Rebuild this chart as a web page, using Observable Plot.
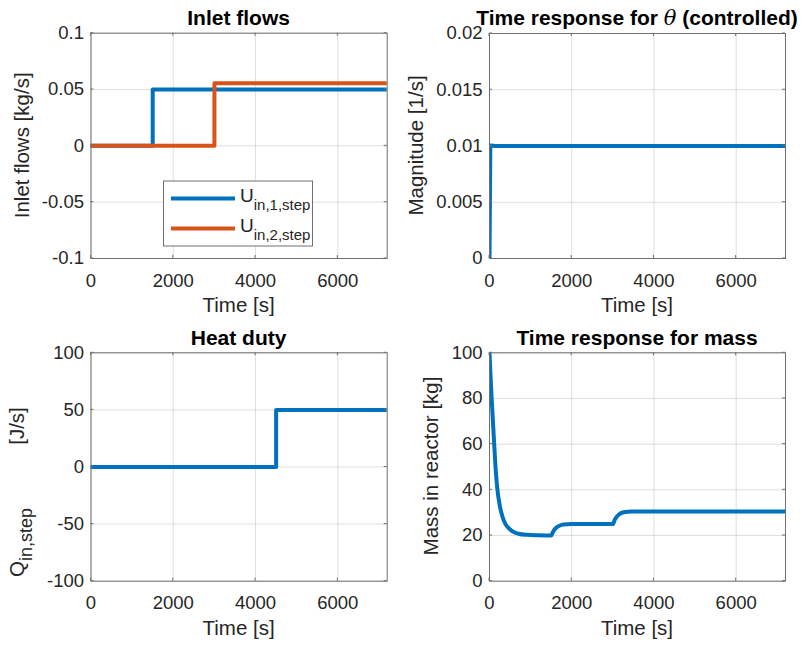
<!DOCTYPE html>
<html><head><meta charset="utf-8">
<script src="https://cdn.jsdelivr.net/npm/d3@7"></script>
<script src="https://cdn.jsdelivr.net/npm/@observablehq/plot@0.6"></script>
<style>
body{margin:0;background:#fff;}
#fig{position:relative;width:803px;height:645px;overflow:hidden;background:#fff;font-family:"Liberation Sans",Arial,sans-serif;}
#fig svg{position:absolute;overflow:visible;}
</style></head><body><div id="fig"></div>
<script>
// ---- shared time axis ----
const timeDomain = [0, 7200];
const timeTicks = [0, 2000, 4000, 6000];
const timeTickLabels = ["0", "2000", "4000", "6000"];

// ---- Inlet flows ----
const u1Time = [0, 1500, 7200];
const u1Value = [0, 0.05, 0.05];
const u2Time = [0, 3000, 7200];
const u2Value = [0, 0.0556, 0.0556];
const flowTicks = [-0.1, -0.05, 0, 0.05, 0.1];
const flowTickLabels = ["-0.1", "-0.05", "0", "0.05", "0.1"];
const legendNames = [["U", "in,1,step"], ["U", "in,2,step"]];

// ---- theta ----
const thetaTime = [0, 20, 150, 7200];
const thetaValue = [0, 0.01005, 0.01, 0.01];
const thetaTicks = [0, 0.005, 0.01, 0.015, 0.02];
const thetaTickLabels = ["0", "0.005", "0.01", "0.015", "0.02"];

// ---- heat duty ----
const qTime = [0, 4500, 7200];
const qValue = [0, 50, 50];
const qTicks = [-100, -50, 0, 50, 100];
const qTickLabels = ["-100", "-50", "0", "50", "100"];

// ---- mass ----
const massTime = [0, 30, 65, 105, 146, 187, 251, 320, 389, 480, 590, 700, 917, 1200, 1500, 1550, 1600, 1650, 1700, 1800, 2000, 3000, 3050, 3100, 3150, 3200, 3300, 3450, 7200];
const massValue = [100, 88, 76, 63, 50, 41, 33, 28, 25, 23, 21.5, 20.8, 20.3, 20.1, 20, 21.8, 23, 23.8, 24.3, 24.8, 25, 25, 27, 28.3, 29.2, 29.8, 30.3, 30.5, 30.5];
const massTicks = [0, 20, 40, 60, 80, 100];
const massTickLabels = ["0", "20", "40", "60", "80", "100"];

const BLUE = "#0072BD", ORANGE = "#D95319";
const INK = "#262626", FRAME = "#707070";
const FONT = "'Liberation Sans', Arial, sans-serif";

function table(ts, vs) { return ts.map((t, i) => ({t, v: vs[i]})); }

function panel(cfg) {
  const {left, top, width, height, mL, mR, mT, mB, yDomain, yTicks, yTickLabels, series} = cfg;
  const ymap = new Map(yTicks.map((d, i) => [d, yTickLabels[i]]));
  const xmap = new Map(timeTicks.map((d, i) => [d, timeTickLabels[i]]));
  const marks = [
    Plot.gridX(timeTicks, {stroke: INK, strokeOpacity: 0.15}),
    Plot.gridY(yTicks, {stroke: INK, strokeOpacity: 0.15}),
    ...series.map(s => Plot.line(table(s.t, s.v), {x: "t", y: "v", stroke: s.color, strokeWidth: 4, curve: s.curve, clip: true})),
    Plot.frame({stroke: FRAME}),
    Plot.axisX(timeTicks, {tickSize: 0, tickPadding: 15, tickFormat: d => xmap.get(d), label: null, fill: INK}),
    Plot.axisY(yTicks, {tickSize: 0, tickPadding: 7, tickFormat: d => ymap.get(d), label: null, fill: INK})
  ];
  const svg = Plot.plot({
    width, height, marginLeft: mL, marginRight: mR, marginTop: mT, marginBottom: mB,
    x: {domain: timeDomain, label: null},
    y: {domain: yDomain, label: null},
    style: {fontFamily: FONT, fontSize: "18.5px", color: INK, background: "transparent", overflow: "visible"},
    marks
  });
  svg.style.left = left + "px";
  svg.style.top = top + "px";
  document.getElementById("fig").appendChild(svg);
  const g = d3.select(svg);
  const x0 = mL, x1 = width - mR, y0 = mT, y1 = height - mB;
  const sx = svg.scale("x"), sy = svg.scale("y");
  const tg = g.append("g").attr("stroke", FRAME).attr("stroke-width", 1);
  timeTicks.forEach(d => {
    const px = sx.apply(d);
    tg.append("line").attr("x1", px).attr("x2", px).attr("y1", y1).attr("y2", y1 - 3);
    tg.append("line").attr("x1", px).attr("x2", px).attr("y1", y0).attr("y2", y0 + 3);
  });
  yTicks.forEach(d => {
    const py = sy.apply(d);
    tg.append("line").attr("x1", x0).attr("x2", x0 + 3).attr("y1", py).attr("y2", py);
    tg.append("line").attr("x1", x1).attr("x2", x1 - 3).attr("y1", py).attr("y2", py);
  });
  // title
  const title = g.append("text").attr("x", (x0 + x1) / 2).attr("y", cfg.titleY)
    .attr("text-anchor", "middle").attr("font-family", FONT).attr("font-size", 21)
    .attr("font-weight", "bold").attr("fill", "#000");
  cfg.title.forEach(p => { const ts = title.append("tspan").text(p.text); if (p.italic) ts.attr("font-style", "italic").attr("font-family", "'DejaVu Serif', serif").attr("font-weight", "normal"); });
  // x label
  g.append("text").attr("x", (x0 + x1) / 2).attr("y", y1 + 54).attr("text-anchor", "middle")
    .attr("font-family", FONT).attr("font-size", 20.5).attr("fill", INK).text("Time [s]");
  // y label pieces
  cfg.ylabels.forEach(lab => {
    const yl = g.append("text").attr("transform", `translate(${lab.x},${lab.y}) rotate(-90)`)
      .attr("text-anchor", lab.anchor || "middle").attr("font-family", FONT).attr("font-size", 20.5).attr("fill", INK);
    lab.parts.forEach(p => {
      const ts = yl.append("tspan").text(p.text);
      if (p.sub) ts.attr("font-size", 18).attr("dy", 7.5);
    });
  });
  return {svg, g};
}

// Top-left
const tl = panel({left: 0, top: 0, width: 400, height: 320, mL: 90.5, mR: 13.3, mT: 32.7, mB: 62,
  yDomain: [-0.1, 0.1], yTicks: flowTicks, yTickLabels: flowTickLabels,
  series: [{t: u1Time, v: u1Value, color: BLUE, curve: "step-after"}, {t: u2Time, v: u2Value, color: ORANGE, curve: "step-after"}],
  title: [{text: "Inlet flows"}], titleY: 25,
  ylabels: [{x: 29, y: 145.3, parts: [{text: "Inlet flows [kg/s]"}]}]});

// legend
{
  const g = tl.g;
  const lg = g.append("g").attr("text-anchor", "start");
  lg.append("rect").attr("x", 163.5).attr("y", 181).attr("width", 149).attr("height", 65)
    .attr("fill", "#fff").attr("stroke", FRAME).attr("stroke-width", 1);
  const colors = [BLUE, ORANGE];
  const ys = [198.5, 228.5];
  legendNames.forEach((nm, i) => {
    lg.append("line").attr("x1", 171).attr("x2", 235).attr("y1", ys[i]).attr("y2", ys[i])
      .attr("stroke", colors[i]).attr("stroke-width", 4);
    const t = lg.append("text").attr("x", 240).attr("y", ys[i] + 3.5).attr("font-family", FONT)
      .attr("font-size", 19).attr("fill", INK).attr("text-anchor", "start");
    t.append("tspan").text(nm[0]);
    t.append("tspan").attr("font-size", 15).attr("dy", 7.5).text(nm[1]);
  });
}

// Top-right
panel({left: 400, top: 0, width: 403, height: 320, mL: 89, mR: 18, mT: 33, mB: 62,
  yDomain: [0, 0.02], yTicks: thetaTicks, yTickLabels: thetaTickLabels,
  series: [{t: thetaTime, v: thetaValue, color: BLUE, curve: "linear"}],
  title: [{text: "Time response for "}, {text: "θ", italic: true}, {text: " (controlled)"}], titleY: 25,
  ylabels: [{x: 23, y: 145.5, parts: [{text: "Magnitude [1/s]"}]}]});

// Bottom-left
panel({left: 0, top: 320, width: 400, height: 325, mL: 90.5, mR: 13.3, mT: 32.3, mB: 64.3,
  yDomain: [-100, 100], yTicks: qTicks, yTickLabels: qTickLabels,
  series: [{t: qTime, v: qValue, color: BLUE, curve: "step-after"}],
  title: [{text: "Heat duty"}], titleY: 25,
  ylabels: [
    {x: 24, y: 257, anchor: "start", parts: [{text: "Q"}, {text: "in,step", sub: true}]},
    {x: 24, y: 106, parts: [{text: "[J/s]"}]}
  ]});

// Bottom-right
panel({left: 400, top: 320, width: 403, height: 325, mL: 89, mR: 18, mT: 32.3, mB: 64.3,
  yDomain: [0, 100], yTicks: massTicks, yTickLabels: massTickLabels,
  series: [{t: massTime, v: massValue, color: BLUE, curve: "monotone-x"}],
  title: [{text: "Time response for mass"}], titleY: 25,
  ylabels: [{x: 38, y: 146, parts: [{text: "Mass in reactor [kg]"}]}]});
</script></body></html>
